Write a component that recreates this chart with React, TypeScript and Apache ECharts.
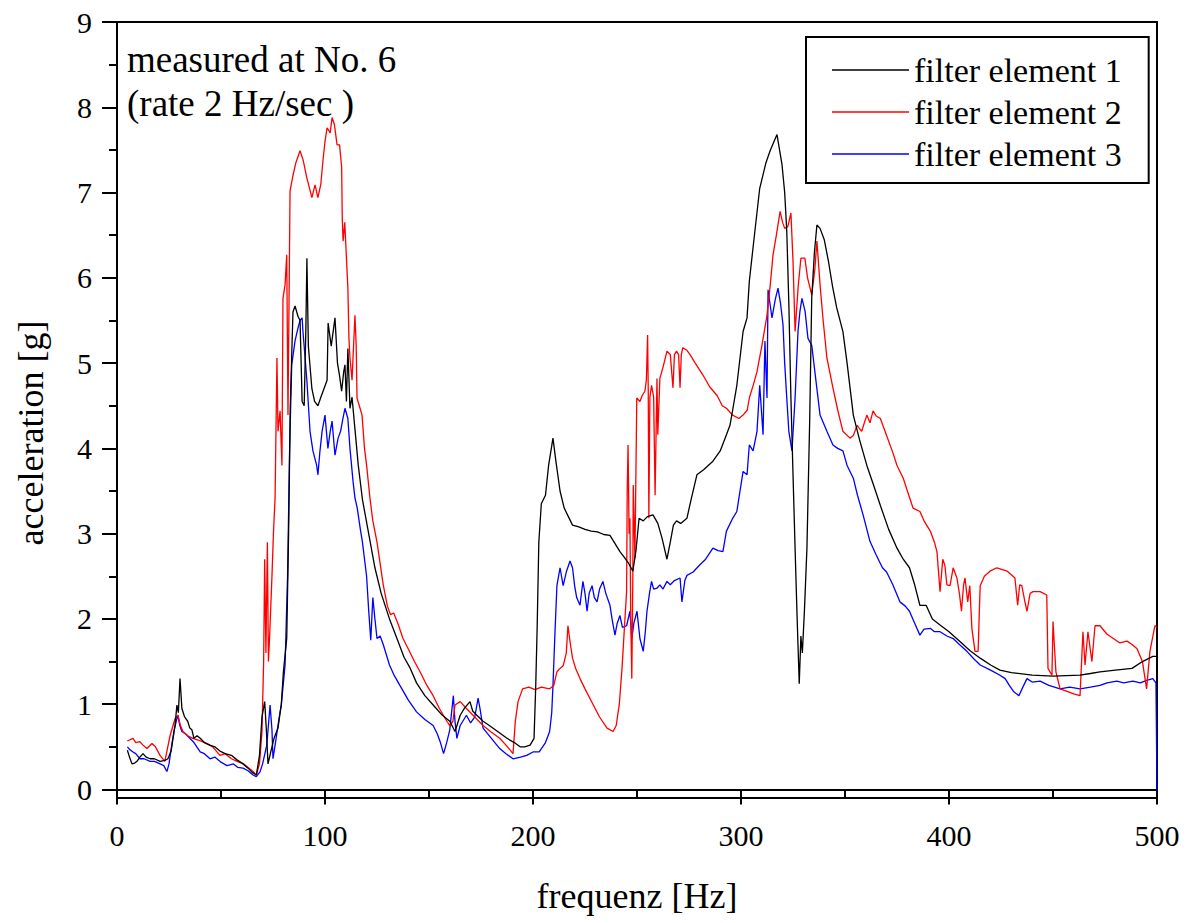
import React, { useEffect, useRef } from "react";
import * as echarts from "echarts";

const FONT = "Liberation Serif";

const seriesNames = ["filter element 1", "filter element 2", "filter element 3"];
const seriesColors = ["#000000", "#ff0000", "#0000ff"];

const yTickValues = [0, 1, 2, 3, 4, 5, 6, 7, 8, 9];
const yMinorTickValues = [0.5, 1.5, 2.5, 3.5, 4.5, 5.5, 6.5, 7.5, 8.5];

const element1: [number, number][] = [
  [5,0.46],[6,0.38],[7.2,0.3],[8.5,0.31],[9.6,0.33],[11,0.38],[12.5,0.42],[14,0.38],[15.9,0.36],[18,0.36],[20.7,0.33],[23,0.34],[24.5,0.36],[26,0.45],[27.9,0.75],[28.8,0.99],[29.5,0.9],[30.3,1.3],[31.2,0.95],[32.5,0.85],[34,0.8],[35,0.72],[36,0.7],[37,0.6],[38.5,0.63],[40,0.6],[42,0.55],[44.7,0.52],[47,0.5],[49.5,0.45],[52,0.42],[55,0.4],[57.5,0.35],[60.6,0.3],[63,0.25],[65,0.2],[67,0.17],[68.5,0.4],[69.7,0.85],[71,1.03],[71.8,0.7],[72.6,0.3],[74,0.45],[75.5,0.6],[77.4,0.72],[79,1.0],[80,1.38],[81.6,1.77],[82.5,3.0],[83.3,4.5],[84.6,5.6],[85.6,5.67],[87,5.55],[88,5.5],[89,4.55],[90,4.5],[90.8,5.4],[91.3,6.23],[92,5.2],[93.7,4.7],[95,4.55],[96.6,4.5],[98,4.6],[101,4.8],[101.5,5.47],[103,5.2],[104.8,5.53],[106,5.0],[107,4.85],[108,4.67],[109,4.9],[109.6,4.98],[110.3,4.55],[111,5.17],[112,4.47],[113,4.6],[114.5,4.2],[116,3.8],[118,3.4],[121,3.0],[124,2.6],[127,2.3],[131,2.0],[134.6,1.77],[138,1.55],[141,1.42],[144,1.25],[148,1.1],[152,0.99],[156,0.88],[160,0.8],[162.5,0.68],[165,0.87],[167,0.95],[169.7,1.03],[171,0.92],[173,0.87],[176,0.8],[179,0.75],[183,0.68],[187.5,0.6],[191,0.55],[193.8,0.5],[196,0.5],[198.6,0.52],[200.5,0.6],[201.3,1.2],[202,1.9],[202.8,2.9],[204,3.35],[206,3.45],[207.5,3.8],[209.6,4.12],[211,3.85],[213,3.5],[215,3.3],[217,3.2],[219,3.1],[222,3.08],[225,3.05],[228,3.03],[231,3.02],[234,2.99],[237,2.98],[239,2.9],[241.8,2.79],[244,2.72],[246,2.65],[248,2.56],[249.5,2.8],[251,3.18],[253,3.15],[255,3.2],[257.7,3.22],[260,3.12],[262,2.95],[264.4,2.7],[266,2.9],[267.5,3.1],[269,3.15],[271,3.12],[274,3.18],[276,3.4],[278.8,3.69],[282,3.75],[286.5,3.85],[290,3.97],[293,4.16],[294.7,4.27],[296,4.45],[298,4.74],[301,5.37],[302.9,5.53],[304,5.96],[306,6.4],[309,7.05],[312,7.35],[314,7.49],[317.3,7.68],[319.7,7.33],[321,7.0],[322,6.55],[323,5.7],[324,4.59],[325,3.7],[326,2.83],[327,2.0],[328,1.24],[328.8,1.8],[329.5,1.6],[330.5,2.1],[331.7,2.83],[333,4.3],[334,5.76],[335.3,6.3],[336.5,6.62],[338,6.58],[340,6.45],[342,6.2],[344,5.9],[346,5.65],[349,5.37],[351,5.0],[354,4.39],[357,4.1],[360.5,3.8],[364,3.55],[367,3.33],[371,3.05],[375,2.83],[378,2.7],[381,2.6],[383.5,2.4],[386,2.16],[389,2.16],[392,2.0],[395.7,1.93],[400,1.85],[405,1.74],[410,1.63],[415,1.54],[420,1.46],[424.5,1.4],[430,1.37],[440,1.34],[450,1.33],[463,1.34],[468,1.36],[472.6,1.38],[480,1.4],[488,1.42],[493,1.5],[498,1.56],[500,1.56]
];

const element2: [number, number][] = [
  [5,0.57],[6,0.58],[7.7,0.6],[9,0.55],[11,0.56],[12.5,0.52],[14.4,0.48],[16.8,0.54],[18.5,0.5],[20.7,0.4],[23,0.33],[24,0.45],[25.5,0.63],[27.9,0.83],[29.3,0.87],[30.5,0.75],[31.7,0.68],[34,0.63],[36.5,0.6],[39,0.58],[41,0.56],[43,0.54],[46,0.5],[49.5,0.4],[52,0.42],[55,0.36],[57.7,0.33],[61,0.3],[65.4,0.21],[67,0.17],[68.5,0.3],[69.7,0.68],[70.5,1.5],[71,2.7],[71.6,1.6],[72.3,2.9],[72.8,1.5],[73.3,1.75],[74.5,2.5],[75.2,3.0],[76,3.42],[76.9,5.06],[77.4,4.2],[78.4,4.44],[79.3,3.8],[79.8,5.76],[80.8,5.92],[81.6,6.27],[82.2,4.39],[83.2,7.02],[84.6,7.2],[86,7.35],[88,7.49],[89.5,7.38],[91.3,7.17],[93.7,6.94],[95.2,7.09],[96.6,6.94],[98,7.1],[99,7.37],[100,7.6],[101,7.76],[102.5,7.7],[103.4,7.88],[104.5,7.8],[105.8,7.56],[107,7.56],[108,7.3],[108.3,6.7],[108.7,6.43],[109.5,6.65],[110.6,6.08],[111,5.88],[111.5,5.3],[112,5.06],[113,4.8],[114.4,5.56],[115,5.2],[115.4,4.59],[116.5,4.5],[117.8,4.39],[119,4.0],[120,3.8],[121.6,3.42],[123,3.15],[125,2.9],[128,2.4],[130,2.15],[131.5,2.05],[133,2.07],[135,1.95],[137.5,1.77],[140,1.65],[143,1.5],[145.7,1.38],[149,1.22],[152,1.1],[155,0.95],[158.6,0.8],[160,0.75],[161.5,0.8],[162.5,0.99],[165,1.03],[168,0.95],[172,0.85],[176,0.75],[180,0.67],[184,0.6],[187,0.52],[190.4,0.42],[191.5,0.8],[192.8,1.03],[195,1.18],[198,1.2],[201,1.17],[204,1.2],[208,1.18],[210,1.22],[211.5,1.38],[213,1.42],[214.5,1.45],[216,1.6],[216.8,1.92],[218,1.7],[219,1.54],[220.5,1.42],[222.6,1.3],[225,1.18],[229,0.99],[232,0.85],[235.6,0.72],[238.5,0.68],[240,0.75],[241.5,1.0],[242.8,1.42],[244.2,2.0],[245,2.32],[245.3,3.5],[245.7,4.04],[246.2,3.0],[246.6,3.18],[247,2.0],[247.5,1.3],[248,2.5],[248.2,3.57],[249,2.71],[249.9,4.59],[251.4,4.55],[252.5,4.62],[253.8,4.67],[254.5,4.8],[255.1,5.33],[255.4,4.7],[255.7,3.18],[256.2,4.6],[257,4.74],[258,4.6],[258.7,3.45],[259.6,4.82],[260,4.16],[261,4.82],[262.5,4.95],[264.4,5.14],[266,5.1],[267.3,4.71],[268,5.1],[269,5.14],[270,5.1],[270.7,4.71],[271.3,5.1],[272,5.18],[274,5.15],[275.5,5.1],[278,5.0],[281.7,4.86],[285,4.72],[288.5,4.62],[291,4.5],[293,4.47],[296,4.39],[299,4.35],[301,4.39],[303,4.45],[304,4.59],[306,4.75],[307.7,4.9],[310,5.2],[312.5,5.56],[314,5.9],[315.4,6.27],[317,6.5],[318.8,6.78],[320,6.65],[321,6.58],[322.5,6.6],[324,6.76],[325,6.2],[326,5.37],[327.5,5.9],[328.8,6.23],[330.7,6.23],[332,6.0],[334,5.8],[335.5,6.1],[336.5,6.43],[338,5.92],[339.5,5.5],[341.3,5.06],[344.2,4.71],[346.5,4.45],[349,4.2],[352.4,4.12],[354,4.15],[355.8,4.27],[358,4.2],[360.5,4.39],[362,4.3],[363.5,4.44],[365,4.38],[367,4.35],[370,4.15],[373,3.95],[375,3.8],[378,3.65],[380,3.5],[382.7,3.3],[386,3.26],[388,3.15],[391,3.03],[393,2.9],[394.2,2.79],[395.7,2.32],[397,2.7],[398,2.63],[399,2.4],[400.5,2.39],[402,2.6],[403.8,2.48],[405,2.3],[406,2.09],[407,2.4],[407.7,2.48],[409,2.2],[410,2.39],[411,1.89],[412.5,1.62],[414,1.62],[414.6,2.1],[415,2.39],[417,2.5],[419.7,2.56],[423,2.6],[428,2.56],[431.7,2.48],[433,2.16],[434,2.4],[435,2.39],[436.5,2.2],[437.5,2.09],[439,2.3],[440.4,2.32],[443.8,2.32],[447,2.28],[447.6,1.42],[449.5,1.34],[450,1.97],[451.4,1.38],[453.4,1.18],[456.7,1.15],[460,1.12],[463,1.1],[464.4,1.85],[465.4,1.46],[466.8,1.85],[468.7,1.5],[470.2,1.92],[472.6,1.92],[476,1.82],[479,1.77],[482,1.72],[485.6,1.74],[488,1.7],[490.4,1.65],[493,1.5],[495,1.18],[496.6,1.62],[499,1.92],[500,1.9]
];

const element3: [number, number][] = [
  [5,0.5],[6,0.47],[7.7,0.44],[9,0.42],[11,0.36],[13,0.36],[15.9,0.33],[18,0.33],[20.7,0.3],[22.5,0.28],[24,0.21],[25,0.3],[26.5,0.55],[27.5,0.7],[28.8,0.83],[29.3,0.87],[30.2,0.75],[31.2,0.68],[33,0.65],[35,0.6],[37,0.55],[40,0.44],[42,0.42],[44.7,0.36],[47,0.38],[50,0.32],[52.9,0.28],[56,0.3],[58,0.26],[60.6,0.25],[63,0.22],[65.4,0.17],[67,0.15],[68.8,0.21],[70,0.3],[72,0.52],[73.6,0.99],[74.5,0.7],[75,0.36],[76.5,0.6],[78,0.85],[79,0.99],[80.8,1.46],[82,2.5],[83,4.0],[84,4.98],[85.6,5.26],[87,5.41],[88,5.5],[89,5.53],[89.4,5.37],[90.3,5.1],[91.3,4.79],[92.8,4.2],[94.2,3.97],[96,3.8],[96.6,3.69],[97.5,3.95],[98.6,4.2],[100,4.39],[101.4,4.0],[102.5,4.2],[103.4,4.32],[104.8,3.92],[106.3,4.12],[107.5,4.2],[108.6,4.35],[109.6,4.47],[111,4.35],[112,4.0],[113.5,3.61],[114.4,3.42],[115.5,3.3],[117,3.05],[118,2.9],[119,2.7],[120,2.5],[121,2.1],[122,1.75],[123,2.25],[124,2.0],[125,1.77],[126.5,1.8],[128,1.7],[131,1.46],[133,1.35],[136,1.22],[140,1.05],[144,0.91],[148,0.82],[152,0.75],[154,0.65],[155.5,0.55],[157,0.42],[158.5,0.55],[160,0.7],[161.7,1.1],[162.5,0.8],[163.4,0.6],[165,0.75],[168,0.87],[170,0.78],[172,0.85],[173.6,1.07],[174.5,0.95],[176,0.72],[180,0.6],[184,0.48],[187,0.42],[190.4,0.36],[194,0.38],[197,0.4],[200,0.44],[203,0.44],[206,0.55],[208,0.68],[209,0.9],[209.6,1.22],[210.5,1.8],[211.5,2.39],[213,2.6],[214.5,2.39],[216,2.55],[217.8,2.68],[219,2.6],[220,2.39],[221,2.25],[222.6,2.16],[224,2.44],[225,2.3],[226,2.09],[227,2.3],[228.4,2.39],[229.5,2.25],[230.8,2.2],[232,2.35],[233.6,2.44],[235,2.3],[237,2.16],[238,2.0],[239.4,1.81],[240.5,1.95],[241.8,2.04],[243,1.9],[245,1.92],[246.6,2.09],[247.5,1.77],[248.5,1.95],[250,2.09],[251.4,1.77],[253,1.62],[254,1.85],[254.8,2.09],[256,2.3],[257,2.44],[258,2.35],[259.6,2.36],[261,2.4],[262.5,2.35],[264.4,2.44],[266,2.4],[268,2.45],[270.7,2.48],[271.6,2.2],[273,2.45],[274,2.51],[277,2.55],[280,2.63],[283,2.7],[286.5,2.83],[289,2.8],[291.3,2.79],[293,3.03],[296,3.18],[298,3.26],[301,3.73],[302.9,3.69],[304,4.04],[305.8,3.97],[307.7,4.2],[309,4.74],[310.6,4.16],[311.5,5.26],[312.5,4.59],[313,5.86],[314.9,5.53],[316.5,5.75],[317.8,5.88],[319,5.7],[320.2,5.45],[321,5.0],[322,4.59],[323,4.2],[324.5,3.97],[326,4.59],[327.4,5.37],[328.3,5.6],[329.3,5.76],[330.8,5.61],[332.2,5.29],[334,5.21],[336,4.8],[338,4.39],[341.3,4.2],[344.2,4.04],[346.5,4.0],[349,3.97],[351,3.8],[354,3.65],[356,3.45],[358.7,3.22],[362,2.91],[365,2.75],[368,2.6],[370,2.55],[373,2.4],[376.4,2.2],[379,2.15],[381,2.09],[383.5,1.95],[386,1.81],[388,1.88],[391,1.89],[393,1.85],[395.7,1.85],[399,1.8],[402,1.77],[405,1.7],[408.6,1.62],[412,1.53],[415,1.46],[420,1.4],[424.5,1.34],[427,1.3],[429,1.22],[431,1.15],[433.6,1.1],[435.5,1.2],[437.5,1.3],[440,1.26],[443.8,1.27],[448,1.22],[453.4,1.18],[458,1.2],[463,1.18],[468,1.2],[472.6,1.22],[476,1.25],[480.7,1.27],[484,1.25],[488.4,1.27],[492,1.25],[495,1.28],[498,1.3],[499.5,1.25],[500,0]
];

const seriesData = [element1, element2, element3];

export default function App() {
  const ref = useRef<HTMLDivElement>(null);
  useEffect(() => {
    if (!ref.current) return;
    const chart = echarts.init(ref.current, undefined, { renderer: "svg" });
    const axisLineStyle = { color: "#000", width: 2 };
    chart.setOption({
      animation: false,
      backgroundColor: "#fff",
      textStyle: { fontFamily: FONT },
      grid: {
        left: 117,
        top: 22,
        width: 1040,
        height: 776,
        show: true,
        borderColor: "#000",
        borderWidth: 2,
        backgroundColor: "transparent",
      },
      legend: {
        orient: "vertical",
        left: 806,
        top: 37,
        data: seriesNames,
        icon: "rect",
        itemWidth: 77,
        itemHeight: 1.5,
        itemGap: 8,
        padding: [16, 27, 12, 26],
        borderColor: "#000",
        borderWidth: 2,
        textStyle: { fontFamily: FONT, fontSize: 34, color: "#000", lineHeight: 34 },
      },
      xAxis: {
        type: "value",
        min: 0,
        max: 500,
        interval: 100,
        name: "frequenz [Hz]",
        nameLocation: "middle",
        nameGap: 80,
        nameTextStyle: { fontFamily: FONT, fontSize: 36, color: "#000" },
        axisLine: { show: true, lineStyle: axisLineStyle },
        axisTick: { show: true, length: 15, lineStyle: axisLineStyle },
        minorTick: { show: true, splitNumber: 2, length: 8, lineStyle: axisLineStyle },
        axisLabel: { fontFamily: FONT, fontSize: 30, color: "#000", margin: 22 },
        splitLine: { show: false },
        minorSplitLine: { show: false },
      },
      yAxis: [
        {
          type: "value",
          min: -0.1,
          max: 9,
          axisLine: { show: true, lineStyle: axisLineStyle },
          axisTick: { show: true, length: 15, lineStyle: axisLineStyle, customValues: yTickValues },
          axisLabel: {
            fontFamily: FONT,
            fontSize: 30,
            color: "#000",
            margin: 25,
            customValues: yTickValues,
          },
          splitLine: { show: false },
        },
        {
          type: "value",
          min: -0.1,
          max: 9,
          position: "left",
          axisLine: { show: false },
          axisTick: { show: true, length: 8, lineStyle: axisLineStyle, customValues: yMinorTickValues },
          axisLabel: { show: false },
          splitLine: { show: false },
        },
      ],
      graphic: [
        {
          type: "text",
          left: 127,
          top: 37,
          style: {
            text: "measured at No. 6\n(rate 2 Hz/sec )",
            fontFamily: FONT,
            fontSize: 37,
            lineHeight: 44,
            fill: "#000",
          },
        },
        {
          type: "text",
          x: 31,
          y: 433,
          rotation: Math.PI / 2,
          style: {
            text: "acceleration [g]",
            fontFamily: FONT,
            fontSize: 36,
            fill: "#000",
            align: "center",
            verticalAlign: "middle",
          },
        },
      ],
      series: seriesData.map((d, i) => ({
        name: seriesNames[i],
        type: "line",
        data: d,
        symbol: "none",
        showSymbol: false,
        lineStyle: { color: seriesColors[i], width: 1.3 },
        itemStyle: { color: seriesColors[i] },
        z: 3 - i,
      })),
    });
    return () => chart.dispose();
  }, []);
  return (
    <div
      ref={ref}
      style={{ position: "absolute", left: 0, top: 0, width: 1190, height: 923, background: "#fff" }}
    />
  );
}
